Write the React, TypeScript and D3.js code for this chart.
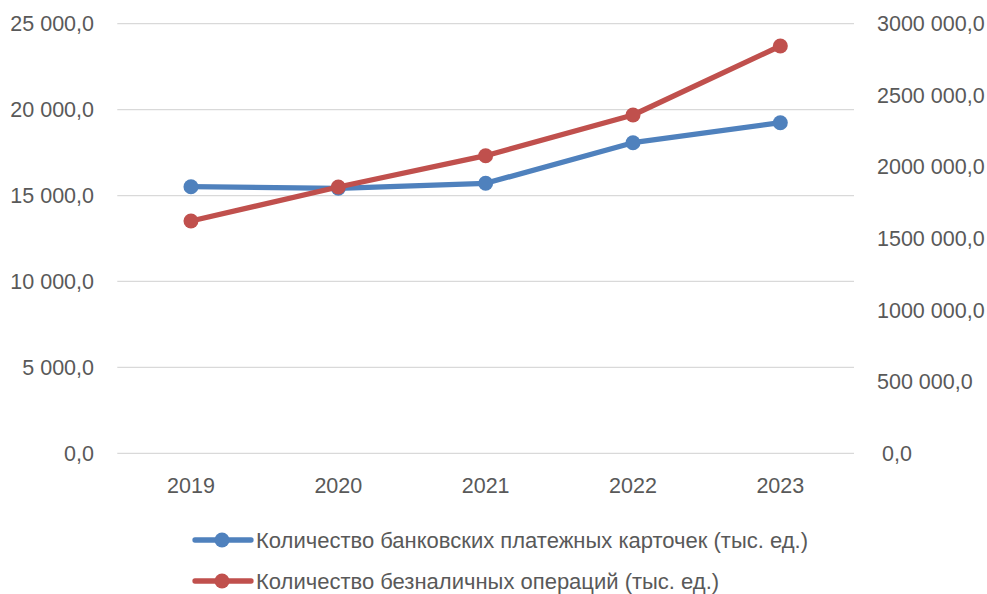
import React, { useEffect, useRef } from "react";
import * as d3 from "d3";

// data
const years = ["2019", "2020", "2021", "2022", "2023"];
const cards = [15514, 15421, 15712, 18075, 19239];
const operations = [1622207, 1859637, 2078212, 2362430, 2844274];
const leftTicks = [0, 5000, 10000, 15000, 20000, 25000];
const rightTicks = [0, 500000, 1000000, 1500000, 2000000, 2500000, 3000000];
const seriesNames = [
  "Количество банковских платежных карточек (тыс. ед.)",
  "Количество безналичных операций (тыс. ед.)",
];

const W = 987;
const H = 594;
const FONT = "'Liberation Sans', Arial, sans-serif";
const AXIS_SIZE = 21.5;
const LEGEND_SIZE = 22;
const BLUE = "#4F81BD";
const RED = "#C0504D";
const TEXT = "#595959";

// "25 000,0" style
const fmt = (v: number) => {
  const s = Math.round(v).toString();
  return s.replace(/\B(?=(\d{3})+(?!\d))/g, " ") + ",0";
};
// right axis in the original drops the first space: "3000 000,0"
const fmtRight = (v: number) => {
  const s = Math.round(v).toString();
  if (s.length <= 3) return s + ",0";
  return s.slice(0, s.length - 3) + " " + s.slice(s.length - 3) + ",0";
};

export default function App() {
  const ref = useRef<SVGSVGElement>(null);

  useEffect(() => {
    const svg = d3.select(ref.current);
    svg.selectAll("*").remove();

    const left = 117.3, right = 854, top = 23.7, bottom = 453.3;

    const x = d3.scaleBand<string>().domain(years).range([left, right]).padding(0);
    const yL = d3.scaleLinear().domain([0, 25000]).range([bottom, top]);
    const yR = d3.scaleLinear().domain([0, 3000000]).range([bottom, top]);
    const cx = (d: string) => (x(d) as number) + x.bandwidth() / 2;

    // gridlines
    svg.append("g")
      .selectAll("line")
      .data(leftTicks)
      .enter()
      .append("line")
      .attr("x1", left)
      .attr("x2", right)
      .attr("y1", (d) => yL(d))
      .attr("y2", (d) => yL(d))
      .attr("stroke", "#D9D9D9")
      .attr("stroke-width", 1.3);

    // left axis labels
    svg.append("g")
      .selectAll("text")
      .data(leftTicks)
      .enter()
      .append("text")
      .attr("x", 94)
      .attr("y", (d) => yL(d))
      .attr("dy", "0.35em")
      .attr("text-anchor", "end")
      .attr("font-family", FONT)
      .attr("font-size", AXIS_SIZE)
      .attr("fill", TEXT)
      .text((d) => fmt(d));

    // right axis labels
    svg.append("g")
      .selectAll("text")
      .data(rightTicks)
      .enter()
      .append("text")
      .attr("x", (d) => (d === 0 ? 882 : 877))
      .attr("y", (d) => yR(d))
      .attr("dy", "0.35em")
      .attr("font-family", FONT)
      .attr("font-size", AXIS_SIZE)
      .attr("fill", TEXT)
      .text((d) => fmtRight(d));

    // category labels
    svg.append("g")
      .selectAll("text")
      .data(years)
      .enter()
      .append("text")
      .attr("x", (d) => cx(d))
      .attr("y", 485)
      .attr("dy", "0.35em")
      .attr("text-anchor", "middle")
      .attr("font-family", FONT)
      .attr("font-size", AXIS_SIZE)
      .attr("fill", TEXT)
      .text((d) => d);

    const series = [
      { vals: cards, y: yL, color: BLUE },
      { vals: operations, y: yR, color: RED },
    ];

    series.forEach((s) => {
      const line = d3.line<number>()
        .x((d, i) => cx(years[i]))
        .y((d) => s.y(d));
      svg.append("path")
        .datum(s.vals)
        .attr("d", line)
        .attr("fill", "none")
        .attr("stroke", s.color)
        .attr("stroke-width", 5.3)
        .attr("stroke-linejoin", "round")
        .attr("stroke-linecap", "round");
      svg.append("g")
        .selectAll("circle")
        .data(s.vals)
        .enter()
        .append("circle")
        .attr("cx", (d, i) => cx(years[i]))
        .attr("cy", (d) => s.y(d))
        .attr("r", 7.5)
        .attr("fill", s.color);
    });

    // legend
    const legendY = [540, 581];
    seriesNames.forEach((name, i) => {
      const g = svg.append("g").attr("transform", "translate(0," + legendY[i] + ")");
      g.append("line")
        .attr("x1", 195)
        .attr("x2", 251)
        .attr("stroke", series[i].color)
        .attr("stroke-width", 5.3)
        .attr("stroke-linecap", "round");
      g.append("circle")
        .attr("cx", 222)
        .attr("r", 7.5)
        .attr("fill", series[i].color);
      g.append("text")
        .attr("x", 256)
        .attr("dy", "0.35em")
        .attr("font-family", FONT)
        .attr("font-size", LEGEND_SIZE)
        .attr("fill", TEXT)
        .text(name);
    });
  }, []);

  return (
    <svg
      ref={ref}
      width={W}
      height={H}
      style={{ position: "absolute", left: 0, top: 0, background: "#fff" }}
    />
  );
}
